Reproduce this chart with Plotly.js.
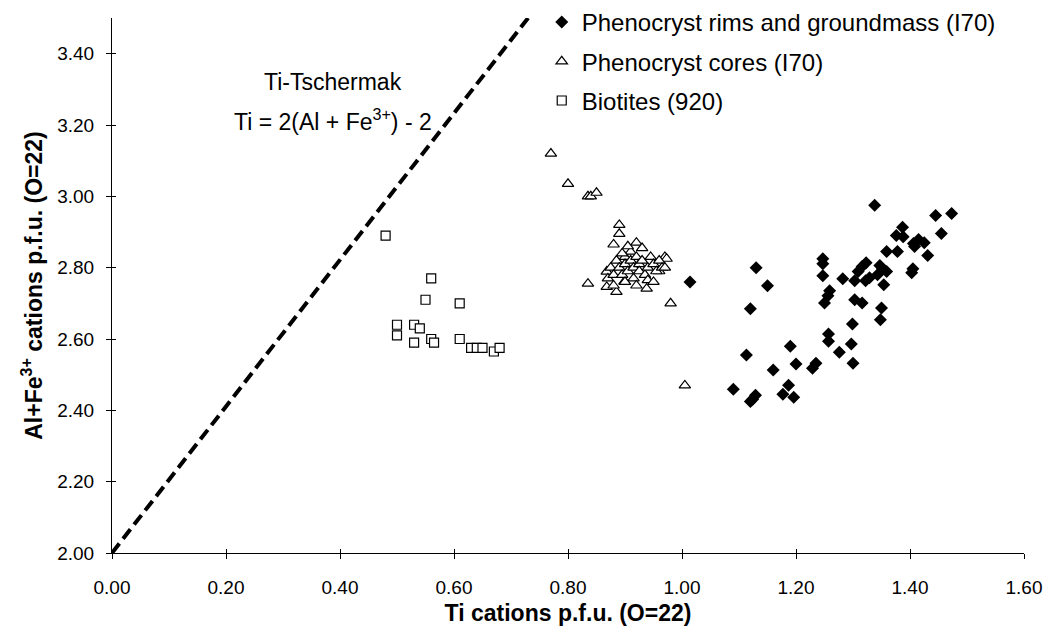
<!DOCTYPE html>
<html><head><meta charset="utf-8">
<script src="https://cdn.plot.ly/plotly-3.0.1.min.js"></script>
<style>html,body{margin:0;padding:0;background:#fff}#chart{width:1044px;height:629px}</style>
</head><body><div id="chart"></div>
<script>
// Phenocryst rims and groundmass (I70)
const rimX = [1.014,1.09,1.113,1.12,1.13,1.12,1.124,1.129,1.15,1.16,1.177,1.187,1.19,1.196,1.20,1.229,1.235,1.247,1.247,1.247,1.25,1.256,1.259,1.257,1.257,1.276,1.282,1.297,1.299,1.30,1.303,1.303,1.309,1.316,1.316,1.322,1.323,1.329,1.338,1.343,1.347,1.348,1.35,1.352,1.354,1.359,1.359,1.376,1.378,1.387,1.388,1.403,1.405,1.406,1.408,1.415,1.425,1.431,1.445,1.455,1.473];
const rimY = [2.76,2.459,2.555,2.685,2.80,2.425,2.431,2.442,2.749,2.513,2.445,2.47,2.58,2.437,2.53,2.518,2.532,2.825,2.811,2.777,2.701,2.721,2.735,2.614,2.594,2.563,2.769,2.586,2.642,2.532,2.763,2.71,2.789,2.803,2.701,2.763,2.814,2.772,2.975,2.78,2.806,2.654,2.687,2.797,2.752,2.789,2.845,2.89,2.845,2.913,2.887,2.786,2.797,2.868,2.859,2.879,2.87,2.834,2.946,2.896,2.952];
// Phenocryst cores (I70)
const coreX = [0.77,0.80,0.835,0.84,0.85,0.835,0.89,0.89,0.88,0.92,0.97,0.98,1.005,
  0.868,0.868,0.885,0.899,0.938,0.96,0.973,0.87,0.875,0.88,0.885,0.89,0.895,0.90,0.90,0.905,0.91,0.91,0.915,0.915,0.92,0.925,0.925,0.93,0.93,0.935,0.94,0.94,0.945,0.95,0.955,0.96,0.965,0.90,0.92,0.88,0.95,0.97,0.895,0.905];
const coreY = [3.12,3.035,3.0,3.0,3.01,2.755,2.92,2.895,2.865,2.87,2.83,2.70,2.47,
  2.789,2.746,2.732,2.761,2.741,2.79,2.825,2.77,2.80,2.78,2.82,2.80,2.78,2.83,2.81,2.79,2.845,2.82,2.80,2.77,2.83,2.81,2.79,2.855,2.82,2.78,2.80,2.765,2.83,2.81,2.79,2.82,2.80,2.76,2.75,2.75,2.76,2.80,2.84,2.86];
// Biotites (920)
const bioX = [0.48,0.50,0.50,0.53,0.54,0.53,0.55,0.56,0.56,0.565,0.61,0.61,0.63,0.64,0.65,0.67,0.68];
const bioY = [2.89,2.61,2.64,2.64,2.63,2.59,2.71,2.77,2.60,2.59,2.70,2.60,2.575,2.575,2.575,2.565,2.575];
// Ti-Tschermak line
const lineX = [0, 0.73];
const lineY = [2, 3.5];
const seriesNames = ["Phenocryst rims and groundmass (I70)", "Phenocryst cores (I70)", "Biotites (920)"];
const xTicks = [0, 0.2, 0.4, 0.6, 0.8, 1.0, 1.2, 1.4, 1.6];
const yTicks = [2.0, 2.2, 2.4, 2.6, 2.8, 3.0, 3.2, 3.4];

const FONT = "Liberation Sans, Arial, sans-serif";
const traces = [
  {x: lineX, y: lineY, mode: "lines", line: {color: "#000", width: 4, dash: "12px,6px"}, showlegend: false, hoverinfo: "skip"},
  {x: rimX, y: rimY, mode: "markers", name: seriesNames[0], legendgroup: "a", marker: {symbol: "diamond", size: 10, color: "#000"}},
  {x: coreX, y: coreY, mode: "markers", name: seriesNames[1], legendgroup: "b", marker: {symbol: "triangle-up", size: 10, color: "#fff", line: {color: "#000", width: 1.2}}},
  {x: bioX, y: bioY, mode: "markers", name: seriesNames[2], legendgroup: "c", marker: {symbol: "square", size: 9, color: "#fff", line: {color: "#000", width: 1.2}}}
];
const axCommon = {showgrid: false, zeroline: false, showline: true, linecolor: "#000", linewidth: 1,
  ticks: "outside", ticklen: 5, tickcolor: "#000", tickwidth: 1, tickformat: ".2f", tickmode: "array",
  tickfont: {family: FONT, size: 19, color: "#000"}};
const layout = {
  width: 1044, height: 629,
  margin: {l: 112, r: 20, t: 18, b: 76, autoexpand: false},
  paper_bgcolor: "#fff", plot_bgcolor: "#fff",
  font: {family: FONT, color: "#000"},
  xaxis: Object.assign({}, axCommon, {range: [0, 1.6], tickvals: xTicks, ticklabelstandoff: 12,
    title: {text: "<b>Ti cations p.f.u. (O=22)</b>", font: {family: FONT, size: 23}, standoff: 8}}),
  yaxis: Object.assign({}, axCommon, {range: [2, 3.5], tickvals: yTicks, ticklabelstandoff: 8,
    title: {text: "<b>Al+Fe<sup>3+</sup> cations p.f.u. (O=22)</b>", font: {family: FONT, size: 23}, standoff: 8}}),
  xaxis2: {overlaying: "x", range: [0, 1.6], tickmode: "array", tickvals: xTicks, ticks: "inside", ticklen: 4, tickcolor: "#000", showticklabels: false, showgrid: false, zeroline: false, showline: false, side: "bottom", anchor: "y"},
  yaxis2: {overlaying: "y", range: [2, 3.5], tickmode: "array", tickvals: yTicks, ticks: "inside", ticklen: 4, tickcolor: "#000", showticklabels: false, showgrid: false, zeroline: false, showline: false, side: "left", anchor: "x"},
  showlegend: true,
  legend: {x: 0.4712, xanchor: "left", yref: "container", y: 1.0, yanchor: "top", bgcolor: "rgba(0,0,0,0)",
    font: {family: FONT, size: 24, color: "#000"}, traceorder: "grouped", tracegroupgap: 5, itemsizing: "trace"},
  annotations: [
    {x: 0.387, y: 3.32, xref: "x", yref: "y", text: "Ti-Tschermak", showarrow: false, font: {family: FONT, size: 23}},
    {x: 0.387, y: 3.214, xref: "x", yref: "y", text: "Ti = 2(Al + Fe<sup>3+</sup>) - 2", showarrow: false, font: {family: FONT, size: 23}}
  ]
};
traces.push({x: [0], y: [2], xaxis: "x2", yaxis: "y2", mode: "markers", marker: {opacity: 0}, showlegend: false, hoverinfo: "skip"});
Plotly.newPlot("chart", traces, layout, {displayModeBar: false});
</script></body></html>
